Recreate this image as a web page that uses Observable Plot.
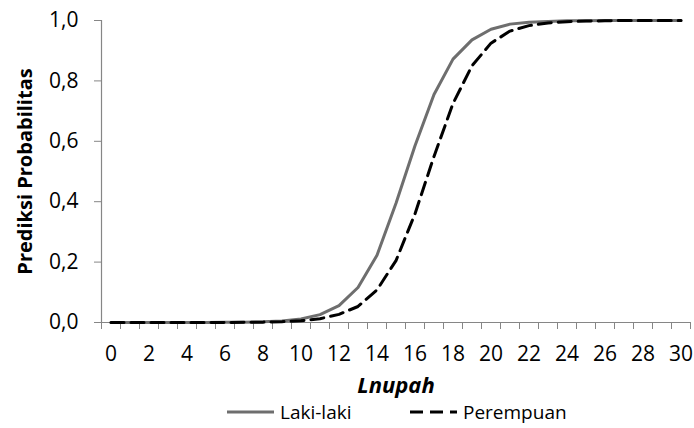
<!DOCTYPE html>
<html>
<head>
<meta charset="utf-8">
<script src="https://cdn.jsdelivr.net/npm/d3@7"></script>
<script src="https://cdn.jsdelivr.net/npm/@observablehq/plot@0.6"></script>
<style>
  body { margin: 0; background: #fff; font-family: "Open Sans", sans-serif; }
  #chart { width: 694px; height: 428px; position: relative; }
  #chart > svg { display: block; }
  #legend { position: absolute; top: 399px; left: 0; width: 694px; height: 26px; font-size: 19px; color: #000; }
  .item { position: absolute; top: 0; display: flex; align-items: center; height: 26px; }
  .item svg { margin-right: 6px; }
</style>
</head>
<body>
<div id="chart"></div>
<script>
const lnupah = d3.range(0, 31);
const lakiLaki = [0, 0, 0, 0, 0, 0.0002, 0.0005, 0.0011, 0.0024, 0.0053, 0.0117, 0.026, 0.056, 0.116, 0.223, 0.395, 0.585, 0.755, 0.872, 0.936, 0.971, 0.988, 0.994, 0.997, 0.999, 0.9995, 1, 1, 1, 1, 1];
const perempuan = [0, 0, 0, 0, 0, 0, 0.0002, 0.0005, 0.0012, 0.0027, 0.0057, 0.0125, 0.027, 0.053, 0.108, 0.205, 0.36, 0.55, 0.725, 0.85, 0.925, 0.965, 0.983, 0.992, 0.996, 0.998, 0.999, 1, 1, 1, 1];
const seriesNames = ["Laki-laki", "Perempuan"];
const xTickLabels = d3.range(0, 31, 2);
const yTickLabels = [0, 0.2, 0.4, 0.6, 0.8, 1.0];

const rowsL = lnupah.map((x, i) => ({x, y: lakiLaki[i], s: seriesNames[0]}));
const rowsP = lnupah.map((x, i) => ({x, y: perempuan[i], s: seriesNames[1]}));

const fmt = d => d.toFixed(1).replace(".", ",");
const axisColor = "#868686";

const plot = Plot.plot({
  width: 694,
  height: 400,
  marginLeft: 101,
  marginRight: 4,
  marginTop: 20,
  marginBottom: 78,
  style: { fontFamily: "Open Sans, sans-serif", fontSize: "21px", color: "#000", background: "#fff" },
  x: { domain: [-0.5, 30.5], axis: null },
  y: { domain: [0, 1], axis: null },
  marks: [
    Plot.ruleY([0], { stroke: axisColor, strokeWidth: 1.2 }),
    Plot.ruleX([-0.5], { stroke: axisColor, strokeWidth: 1.2 }),
    Plot.axisX({ ticks: d3.range(-0.5, 31, 1), tickSize: 7, stroke: axisColor, text: null, label: null }),
    Plot.axisX({ ticks: xTickLabels, tickSize: 0, tickPadding: 24, fontSize: 21, tickFormat: d => String(d), label: null }),
    Plot.axisY({ ticks: yTickLabels, tickSize: 7, tickPadding: 16, stroke: axisColor, fontSize: 21, tickFormat: fmt, label: null }),
    Plot.text(["Lnupah"], { frameAnchor: "bottom", dy: 70, fontSize: 22, fontWeight: "bold", fontStyle: "italic" }),
    Plot.text(["Prediksi Probabilitas"], { frameAnchor: "left", dx: -76, rotate: -90, textAnchor: "middle", fontSize: 20, fontWeight: "bold" }),
    Plot.line(rowsL, { x: "x", y: "y", stroke: "#6e6e6e", strokeWidth: 3 }),
    Plot.line(rowsP, { x: "x", y: "y", stroke: "#000", strokeWidth: 3, strokeDasharray: "13,7" })
  ]
});
document.getElementById("chart").appendChild(plot);

const legend = document.createElement("div");
legend.id = "legend";
legend.innerHTML = `
  <div class="item" style="left:227px"><svg width="47" height="6"><line x1="0" y1="3" x2="47" y2="3" stroke="#6e6e6e" stroke-width="3"/></svg>${seriesNames[0]}</div>
  <div class="item" style="left:410px"><svg width="47" height="6"><line x1="0" y1="3" x2="47" y2="3" stroke="#000" stroke-width="3" stroke-dasharray="13,7"/></svg>${seriesNames[1]}</div>`;
document.getElementById("chart").appendChild(legend);
</script>
</body>
</html>
